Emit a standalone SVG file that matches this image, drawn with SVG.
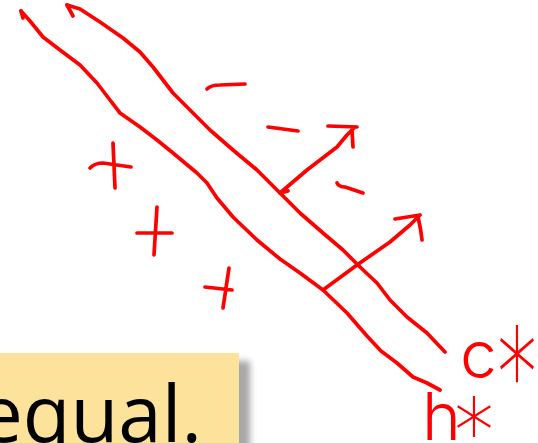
<svg xmlns="http://www.w3.org/2000/svg" width="538" height="443" viewBox="0 0 538 443">
<style>
.ink{fill:none;stroke:#FF0000;stroke-width:3.7;stroke-linecap:round;stroke-linejoin:round}
.hand{fill:#FF0000;font-family:Inter,"DejaVu Sans",sans-serif;font-weight:300}
.star{fill:#FF0000;font-family:Inter,"DejaVu Sans",sans-serif;font-weight:100;font-size:100px}
.big{font-family:"Open Sans","DejaVu Sans",sans-serif;font-size:78px;fill:#000}
</style>
<defs>
<filter id="sh" x="-20%" y="-20%" width="150%" height="150%">
<feGaussianBlur stdDeviation="3"/>
</filter>
</defs>
<g id="box">
<rect x="-10" y="361" width="260" height="100" fill="#8a8a8a" opacity="0.75" filter="url(#sh)"/>
<rect x="-10" y="353" width="249" height="100" fill="#FDE29B"/>
<text class="big" x="-21" y="442">equal.</text>
</g>
<g id="connectors">
<path id="lineA" class="ink" d="M21,11 L30,21 L43,37 L60,50 L80,65 L97,83 L110,100 L120,113 L140,127 L157,140 L173,153 L197,173 L207,183 L217,198 L233,217 L257,240 L280,259 L300,273 L323,290 L347,313 L367,336 L381,351 L397,363 L413,377 L427,383 L440,390"/>
<path class="ink" d="M21,11 L23,18"/>
<path id="lineB" class="ink" d="M67,5 L80,9 L100,22 L123,38 L140,52 L153,67 L163,80 L173,93 L190,110 L210,130 L233,150 L257,170 L280,193 L300,213 L323,233 L343,250 L360,267 L377,283 L390,300 L407,317 L427,333 L445,352"/>
<path class="ink" d="M67,5 L73,16"/>
<path id="arrow1" class="ink" d="M288,191 L280,193 L307,170 L337,147 L347,135 L355,127 M328,126 L357,127 M352,130 L353,147"/>
<path id="arrow2" class="ink" d="M323,290 L357,265 L390,242 L410,225 L420,215 M395,219 L420,215 M418,217 Q421,230 422,240"/>
</g>
<g id="minus" class="ink">
<path d="M207,89 Q211,85 220,85 L245,84"/>
<path d="M268,127 L298,131"/>
<path d="M337,183 Q339,187 345,187 L363,193"/>
</g>
<g id="plus" class="ink">
<path d="M113,143 L115,188 M90,168 Q95,163 103,163 L131,167"/>
<path d="M157,207 L154,255 M137,233 L172,233"/>
<path d="M229,268 L223,308 M205,287 L232,290"/>
</g>
<g id="labels">
<text class="hand" x="460" y="378" font-size="66">c</text>
<text class="star" transform="translate(494,427) scale(0.92,1.4)">*</text>
<text class="hand" x="422" y="440" font-size="66">h</text>
<text class="star" transform="translate(451,469) scale(0.92,1)">*</text>
</g>
</svg>
